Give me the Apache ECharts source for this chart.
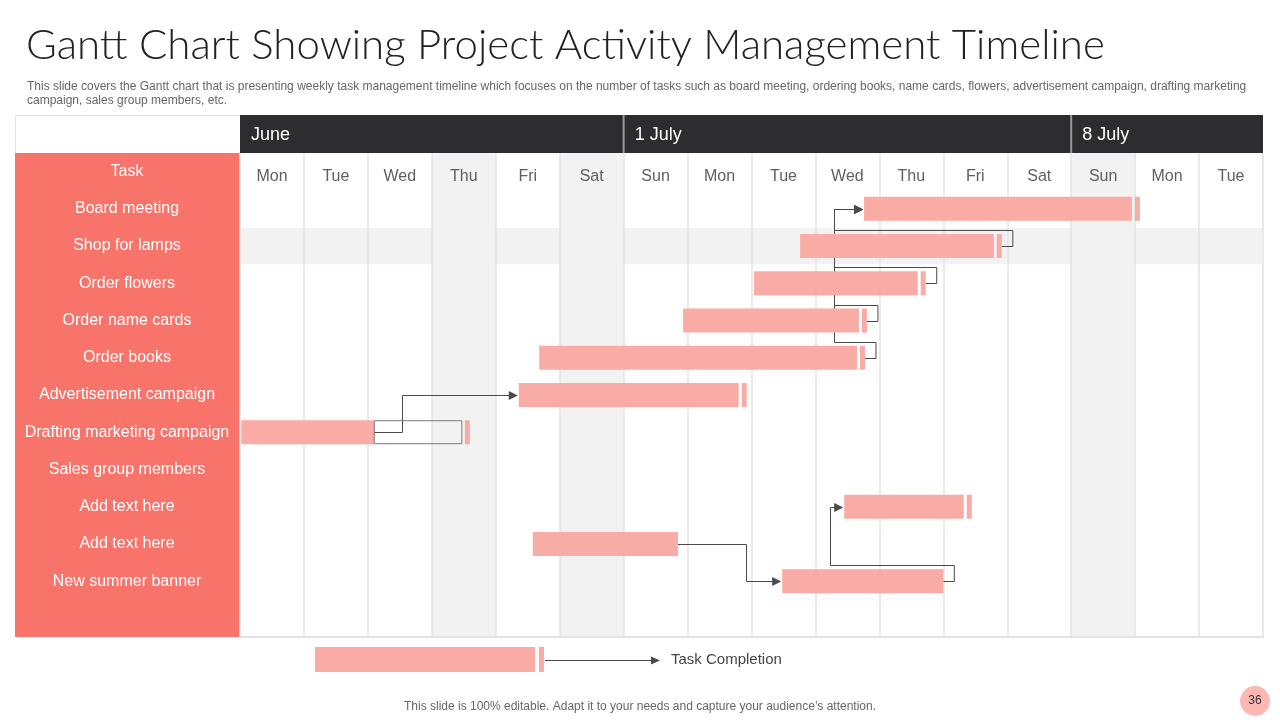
<!DOCTYPE html>
<html>
<head>
<meta charset="utf-8">
<title>Gantt Chart Showing Project Activity Management Timeline</title>
<script src="https://cdn.jsdelivr.net/npm/echarts@6/dist/echarts.min.js"></script>
<style>
  html, body { margin: 0; padding: 0; background: #fff; }
  #main { width: 1280px; height: 720px; }
</style>
</head>
<body>
<div id="main"></div>
<script>
// one column per day
var days = ['Mon', 'Tue', 'Wed', 'Thu', 'Fri', 'Sat', 'Sun', 'Mon', 'Tue', 'Wed', 'Thu', 'Fri', 'Sat', 'Sun', 'Mon', 'Tue'];
var weekLabels = ['June', '1 July', '8 July'];
var weekStarts = [0, 6, 13];
var weekEnds = [6, 13, 16];
var shadedDays = [3, 5, 13];

var taskNames = ['Board meeting', 'Shop for lamps', 'Order flowers', 'Order name cards', 'Order books',
  'Advertisement campaign', 'Drafting marketing campaign', 'Sales group members', 'Add text here',
  'Add text here', 'New summer banner'];
// start / end in days from the first Monday
var taskStart = [9.76, 8.76, 8.04, 6.93, 4.68, 4.36, 0.02, null, 9.45, 4.58, 8.48];
var taskEnd = [13.95, 11.79, 10.60, 9.68, 9.65, 7.80, 2.10, null, 11.32, 6.85, 11.00];
var plannedEnd = [null, null, null, null, null, null, 3.47, null, null, null, null];
var taskDone = [1, 1, 1, 1, 1, 1, 1, 0, 1, 0, 0];
var bandedTasks = [1];

// dependencies: from task -> to task, x (days) of the vertical run
var linkFrom = [1, 2, 3, 4, 6, 9, 10];
var linkTo = [0, 0, 0, 0, 5, 10, 8];
var linkVia = [9.29, 9.29, 9.29, 9.29, 2.53, 7.91, 9.23];

var BAR = '#F9ACA5';
var PANEL = '#F8746B';
var LINK = '#4a4a4a';
var FONT = 'Liberation Sans, Arial, sans-serif';

var rowCats = ['Task'].concat(taskNames, ['']);

var taskData = [];
taskNames.forEach(function (n, i) {
  if (taskStart[i] == null) return;
  taskData.push([i + 1, taskStart[i], taskEnd[i], plannedEnd[i] == null ? NaN : plannedEnd[i], taskDone[i]]);
});

var linkData = linkFrom.map(function (f, i) {
  var t = linkTo[i];
  return [linkVia[i], f + 1, t + 1, taskEnd[f], taskDone[f], taskStart[t]];
});

var shadeData = shadedDays.map(function (d) { return [d, 0, 'col']; })
  .concat(bandedTasks.map(function (r) { return [0, r + 1, 'row']; }));

var weekData = weekLabels.map(function (w, i) { return [weekStarts[i], weekEnds[i], i]; });

function renderShade(params, api) {
  var cs = params.coordSys;
  if (api.value(2) === 'row') {
    var c = api.coord([0, api.value(1)]);
    var bh = api.size([0, 1])[1] - 1;
    return { type: 'rect', shape: { x: cs.x, y: c[1] - bh / 2, width: cs.width, height: bh }, style: { fill: '#F2F2F2' } };
  }
  var x0 = api.coord([api.value(0), 0])[0];
  var x1 = api.coord([api.value(0) + 1, 0])[0];
  return { type: 'rect', shape: { x: x0, y: cs.y, width: x1 - x0, height: cs.height }, style: { fill: '#F2F2F2' } };
}

function renderTask(params, api) {
  var row = api.value(0);
  var p0 = api.coord([api.value(1), row]);
  var p1 = api.coord([api.value(2), row]);
  var plan = api.value(3);
  var h = 24;
  var y = p0[1] - h / 2;
  var kids = [{ type: 'rect', shape: { x: p0[0], y: y, width: p1[0] - p0[0], height: h }, style: { fill: BAR } }];
  var tail = p1[0];
  if (!isNaN(plan)) {
    var p2 = api.coord([plan, row]);
    kids.push({ type: 'rect', shape: { x: p1[0], y: y + 0.5, width: p2[0] - p1[0], height: h - 1 },
      style: { fill: 'none', stroke: '#7a7a7a', lineWidth: 1 } });
    tail = p2[0];
  }
  if (api.value(4)) {
    kids.push({ type: 'rect', shape: { x: tail + 3, y: y, width: 5, height: h }, style: { fill: BAR } });
  }
  return { type: 'group', children: kids };
}

function renderLink(params, api) {
  var a = api.coord([api.value(3), api.value(1)]);
  var b = api.coord([api.value(5), api.value(2)]);
  var vx = Math.round(api.coord([api.value(0), api.value(1)])[0]) + 0.5;
  var ay = Math.round(a[1]) + 0.5, by = Math.round(b[1]) + 0.5;
  var pts;
  if (vx < a[0]) {
    var tail = a[0] + (api.value(4) ? 8 : 0);
    var top = ay - 16;
    pts = [[tail, ay], [tail + 11, ay], [tail + 11, top], [vx, top], [vx, by], [b[0] - 8, by]];
  } else {
    pts = [[a[0], ay], [vx, ay], [vx, by], [b[0] - 8, by]];
  }
  return {
    type: 'group',
    children: [
      { type: 'polyline', shape: { points: pts }, style: { stroke: LINK, lineWidth: 1, fill: null } },
      { type: 'polygon', shape: { points: [[b[0] - 1, by], [b[0] - 10, by - 4.5], [b[0] - 10, by + 4.5]] }, style: { fill: LINK } }
    ]
  };
}

function renderWeek(params, api) {
  var cs = params.coordSys;
  var x0 = api.coord([api.value(0), 0])[0];
  var x1 = api.coord([api.value(1), 0])[0];
  var kids = [
    { type: 'rect', shape: { x: x0, y: cs.y, width: x1 - x0, height: cs.height }, style: { fill: '#2D2D30' } },
    { type: 'text', style: { text: weekLabels[api.value(2)], x: x0 + 11, y: cs.y + cs.height / 2 + 1,
      fill: '#fff', fontSize: 18, fontFamily: FONT, verticalAlign: 'middle', align: 'left' } }
  ];
  if (api.value(0) > 0) {
    kids.push({ type: 'line', shape: { x1: x0, y1: cs.y, x2: x0, y2: cs.y + cs.height }, style: { stroke: '#999', lineWidth: 2 } });
  }
  return { type: 'group', children: kids };
}

var chart = echarts.init(document.getElementById('main'));

chart.setOption({
  backgroundColor: '#fff',
  animation: false,
  title: [{
    text: 'Gantt Chart Showing Project Activity Management Timeline',
    left: 26, top: 24, padding: 0,
    textStyle: { fontFamily: 'Lato, sans-serif', fontWeight: 300, fontSize: 42, color: '#222' }
  }, {
    text: 'This slide covers the Gantt chart that is presenting weekly task management timeline which focuses on the number of tasks such as board meeting, ordering books, name cards, flowers, advertisement campaign, drafting marketing\ncampaign, sales group members, etc.',
    left: 27, top: 80, padding: 0,
    textStyle: { fontFamily: FONT, fontWeight: 'normal', fontSize: 12, lineHeight: 14, color: '#666' }
  }, {
    text: 'This slide is 100% editable. Adapt it to your needs and capture your audience\u2019s attention.',
    left: 'center', top: 701, padding: 0,
    textStyle: { fontFamily: FONT, fontWeight: 'normal', fontSize: 12, color: '#666' }
  }],
  grid: [
    { left: 240, right: 17, top: 153, bottom: 83, containLabel: false },
    { left: 240, right: 17, top: 115, height: 38, containLabel: false }
  ],
  xAxis: [{
    type: 'value', gridIndex: 0, min: 0, max: 16, position: 'bottom',
    axisLine: { show: true, lineStyle: { color: '#DEDEDE', width: 1.5 } },
    axisTick: { show: false }, axisLabel: { show: false }, splitLine: { show: false }
  }, {
    type: 'category', gridIndex: 0, data: days, position: 'top', boundaryGap: true,
    axisLine: { show: false }, axisTick: { show: false },
    axisLabel: { inside: true, margin: 16, color: '#5f5f5f', fontSize: 16, fontFamily: FONT, interval: 0 },
    splitLine: { show: true, interval: 0, lineStyle: { color: '#E3E3E3', width: 1.5 } }
  }, {
    type: 'value', gridIndex: 1, min: 0, max: 16, show: false
  }],
  yAxis: [{
    type: 'category', gridIndex: 0, data: rowCats, inverse: true,
    axisLine: { show: false }, axisTick: { show: false }, splitLine: { show: false },
    axisLabel: { interval: 0, align: 'center', margin: 113, color: '#fff', fontSize: 16, fontFamily: FONT }
  }, {
    type: 'value', gridIndex: 1, min: 0, max: 1, show: false
  }],
  graphic: [
    { type: 'rect', z: -10, shape: { x: 15.5, y: 115.5, width: 1247, height: 521 }, style: { fill: 'none', stroke: '#E2E2E2', lineWidth: 1 } },
    { type: 'rect', z: -5, shape: { x: 15, y: 153, width: 225, height: 484 }, style: { fill: PANEL } },
    { type: 'rect', shape: { x: 315, y: 647, width: 220, height: 25 }, style: { fill: BAR } },
    { type: 'rect', shape: { x: 539, y: 647, width: 5, height: 25 }, style: { fill: BAR } },
    { type: 'line', shape: { x1: 545, y1: 660.5, x2: 652, y2: 660.5 }, style: { stroke: LINK, lineWidth: 1 } },
    { type: 'polygon', shape: { points: [[651, 656.5], [660, 660.5], [651, 664.5]] }, style: { fill: LINK } },
    { type: 'text', style: { text: 'Task Completion', x: 671, y: 660, fill: '#444', fontSize: 15, fontFamily: FONT, verticalAlign: 'middle' } },
    { type: 'circle', shape: { cx: 1255, cy: 701, r: 15 }, style: { fill: '#FCB9B4' } },
    { type: 'text', style: { text: '36', x: 1255, y: 701, fill: '#333', fontSize: 12, fontFamily: FONT, align: 'center', verticalAlign: 'middle' } }
  ],
  series: [{
    name: 'shading', type: 'custom', z: -1, xAxisIndex: 0, yAxisIndex: 0,
    renderItem: renderShade, data: shadeData, silent: true
  }, {
    name: 'weeks', type: 'custom', xAxisIndex: 2, yAxisIndex: 1,
    renderItem: renderWeek, data: weekData, encode: { x: [0, 1] }, silent: true
  }, {
    name: 'links', type: 'custom', z: 3, xAxisIndex: 0, yAxisIndex: 0,
    renderItem: renderLink, data: linkData, encode: { x: [0, 3, 5], y: [1, 2] }, silent: true
  }, {
    name: 'tasks', type: 'custom', z: 4, xAxisIndex: 0, yAxisIndex: 0,
    renderItem: renderTask, data: taskData, encode: { x: [1, 2], y: 0 }
  }]
});
</script>
</body>
</html>
